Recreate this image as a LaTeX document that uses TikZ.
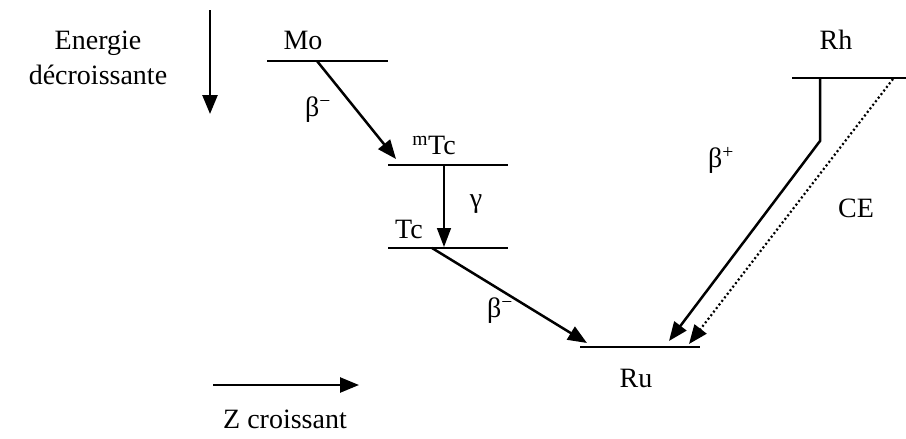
\documentclass[tikz,border=0pt]{standalone}
\usepackage{fontspec}
\setmainfont{Liberation Serif}
\usetikzlibrary{arrows.meta}
\begin{document}
\begin{tikzpicture}[x=1pt,y=-1pt,
  lvl/.style={line width=2.5pt},
  arr/.style={line width=2.5pt,-{Triangle[length=19pt,width=15pt]}},
  thinarr/.style={line width=1.5pt,-{Triangle[length=19pt,width=14pt]}},
  lbl/.style={font=\fontsize{28}{35}\selectfont,inner sep=0pt}]
\useasboundingbox (0,0) rectangle (906,439);
% energy / Z axes
\coordinate (e1) at (210,10);
\coordinate (e2) at (210,114);
\draw[arr] (e1) -- (e2);
\node[lbl,align=center] (energ) at (98,58) {Energie\\décroissante};
\coordinate (z1) at (213,385);
\coordinate (z2) at (359,385);
\draw[arr] (z1) -- (z2);
\node[lbl] (zc) at (285,419) {Z croissant};
% levels
\coordinate (moL) at (267,61);  \coordinate (moR) at (388,61);
\coordinate (mtcL) at (388,165); \coordinate (mtcR) at (508,165);
\coordinate (tcL) at (388,248);  \coordinate (tcR) at (508,248);
\coordinate (ruL) at (580,347);  \coordinate (ruR) at (700,347);
\coordinate (rhL) at (792,78);   \coordinate (rhR) at (906,78);
\foreach \a/\b in {moL/moR,mtcL/mtcR,tcL/tcR,ruL/ruR,rhL/rhR}
  \draw[lvl] (\a) -- (\b);
\node[lbl] (mo) at (303,40) {Mo};
\node[lbl] (mtc) at (434,145) {\textsuperscript{m}Tc};
\node[lbl] (tc) at (409,229) {Tc};
\node[lbl] (ru) at (636,378) {Ru};
\node[lbl] (rh) at (836,40) {Rh};
% transitions
\coordinate (b1s) at (317,61);  \coordinate (b1e) at (396,159);
\draw[arr] (b1s) -- (b1e);
\node[lbl] (b1) at (318,110) {β\textsuperscript{−}};
\coordinate (gs) at (444,165);  \coordinate (ge) at (444,247);
\draw[thinarr] (gs) -- (ge);
\node[lbl] (g) at (476,204) {γ};
\coordinate (b2s) at (432,248); \coordinate (b2e) at (587,343);
\draw[arr] (b2s) -- (b2e);
\node[lbl] (b2) at (500,311) {β\textsuperscript{−}};
\coordinate (bps) at (820,78); \coordinate (bpm) at (820,141); \coordinate (bpe) at (669,341);
\draw[arr] (bps) -- (bpm) -- (bpe);
\node[lbl] (bp) at (721,160) {β\textsuperscript{+}};
\coordinate (ces) at (893,79); \coordinate (cee) at (689,344);
\draw[line width=2.2pt,dash pattern=on 2pt off 2.5pt,-{Triangle[length=19pt,width=15pt]}] (ces) -- (cee);
\node[lbl] (ce) at (856,208) {CE};
\end{tikzpicture}
\end{document}
